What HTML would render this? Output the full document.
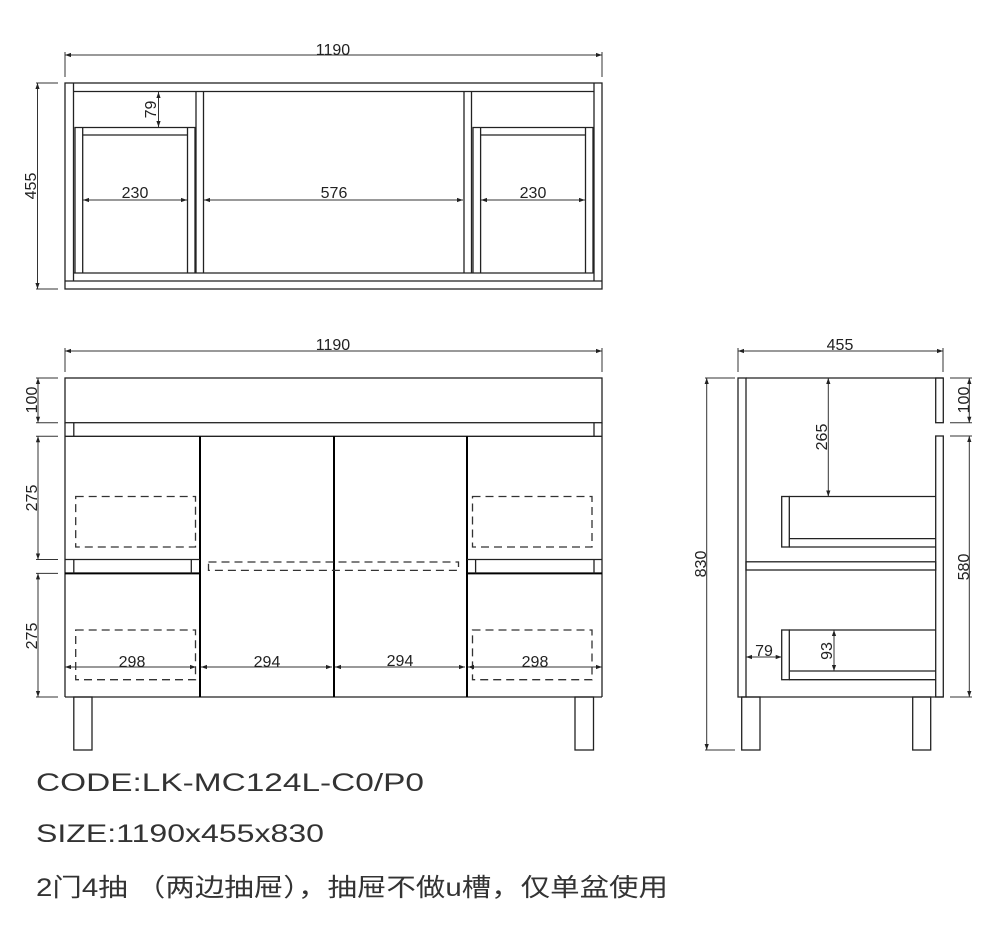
<!DOCTYPE html>
<html><head><meta charset="utf-8"><style>
html,body{margin:0;padding:0;background:#fff;}
svg{display:block;}
.o{fill:none;stroke:#222;stroke-width:1.3;}
.k{fill:none;stroke:#000;stroke-width:2;}
.d{fill:none;stroke:#333;stroke-width:1;}
.ds{fill:none;stroke:#333;stroke-width:1.3;stroke-dasharray:8,5;}
.t{font-family:"Liberation Sans",sans-serif;font-size:16px;fill:#222;}
.b{font-family:"Liberation Sans","Noto Sans CJK SC",sans-serif;font-size:25px;fill:#333;font-weight:normal;}
</style></head><body>
<svg width="1000" height="950" viewBox="0 0 1000 950" xmlns="http://www.w3.org/2000/svg">
<defs>
<marker id="a" viewBox="0 0 10 10" refX="10" refY="5" markerWidth="9" markerHeight="6" orient="auto-start-reverse" markerUnits="userSpaceOnUse"><path d="M0,1.5 L10,5 L0,8.5 Z" fill="#222"/></marker>
</defs>

<!-- ===== TOP VIEW ===== -->
<line class="d" x1="65" y1="55" x2="602" y2="55" marker-start="url(#a)" marker-end="url(#a)"/>
<line class="d" x1="65" y1="52" x2="65" y2="77"/><line class="d" x1="602" y1="52" x2="602" y2="77"/>
<text class="t" x="333" y="55" text-anchor="middle">1190</text>
<line class="d" x1="37.5" y1="83" x2="37.5" y2="289" marker-start="url(#a)" marker-end="url(#a)"/>
<line class="d" x1="36" y1="83" x2="58" y2="83"/><line class="d" x1="36" y1="289" x2="58" y2="289"/>
<text class="t" transform="translate(36,186) rotate(-90)" text-anchor="middle">455</text>

<rect class="o" x="65" y="83" width="537" height="206"/>
<line class="o" x1="73.5" y1="83" x2="73.5" y2="281"/><line class="o" x1="594" y1="83" x2="594" y2="281"/>
<line class="o" x1="73.5" y1="91.5" x2="594" y2="91.5"/>
<line class="o" x1="73.5" y1="273" x2="594" y2="273"/>
<line class="o" x1="65" y1="281" x2="602" y2="281"/>
<line class="o" x1="196" y1="91.5" x2="196" y2="273"/><line class="o" x1="203.5" y1="91.5" x2="203.5" y2="273"/>
<line class="o" x1="464" y1="91.5" x2="464" y2="273"/><line class="o" x1="471.5" y1="91.5" x2="471.5" y2="273"/>
<polyline class="o" points="75,273 75,127.5 195,127.5 195,273"/>
<line class="o" x1="82.7" y1="127.5" x2="82.7" y2="273"/><line class="o" x1="187.5" y1="127.5" x2="187.5" y2="273"/>
<line class="o" x1="82.7" y1="135" x2="187.5" y2="135"/>
<polyline class="o" points="473,273 473,127.5 593,127.5 593,273"/>
<line class="o" x1="480.6" y1="127.5" x2="480.6" y2="273"/><line class="o" x1="585.5" y1="127.5" x2="585.5" y2="273"/>
<line class="o" x1="480.6" y1="135" x2="585.5" y2="135"/>
<line class="d" x1="158.5" y1="92" x2="158.5" y2="127" marker-start="url(#a)" marker-end="url(#a)"/>
<text class="t" transform="translate(156,109.5) rotate(-90)" text-anchor="middle">79</text>
<line class="d" x1="83" y1="200" x2="187" y2="200" marker-start="url(#a)" marker-end="url(#a)"/>
<text class="t" x="135" y="198" text-anchor="middle">230</text>
<line class="d" x1="204" y1="200" x2="463" y2="200" marker-start="url(#a)" marker-end="url(#a)"/>
<text class="t" x="334" y="198" text-anchor="middle">576</text>
<line class="d" x1="481" y1="200" x2="585" y2="200" marker-start="url(#a)" marker-end="url(#a)"/>
<text class="t" x="533" y="198" text-anchor="middle">230</text>

<!-- ===== FRONT VIEW ===== -->
<line class="d" x1="65" y1="351" x2="602" y2="351" marker-start="url(#a)" marker-end="url(#a)"/>
<line class="d" x1="65" y1="348" x2="65" y2="372"/><line class="d" x1="602" y1="348" x2="602" y2="372"/>
<text class="t" x="333" y="350" text-anchor="middle">1190</text>

<rect class="o" x="65" y="378" width="537" height="44.7"/>
<line class="o" x1="65" y1="422.7" x2="65" y2="697"/><line class="o" x1="602" y1="422.7" x2="602" y2="697"/>
<line class="o" x1="73.8" y1="422.7" x2="73.8" y2="436.3"/><line class="o" x1="594" y1="422.7" x2="594" y2="436.3"/>
<line class="o" x1="65" y1="436.3" x2="602" y2="436.3"/>
<line class="o" x1="65" y1="697" x2="602" y2="697"/>
<line class="k" x1="200" y1="436.3" x2="200" y2="697"/>
<line class="k" x1="334" y1="436.3" x2="334" y2="697"/>
<line class="k" x1="467" y1="436.3" x2="467" y2="697"/>
<line class="o" x1="65" y1="559.5" x2="200" y2="559.5"/><line class="k" x1="65" y1="573.4" x2="200" y2="573.4"/>
<line class="o" x1="73.8" y1="559.5" x2="73.8" y2="573.4"/><line class="o" x1="191.3" y1="559.5" x2="191.3" y2="573.4"/>
<line class="o" x1="467" y1="559.5" x2="602" y2="559.5"/><line class="k" x1="467" y1="573.4" x2="602" y2="573.4"/>
<line class="o" x1="475.6" y1="559.5" x2="475.6" y2="573.4"/><line class="o" x1="594" y1="559.5" x2="594" y2="573.4"/>
<rect class="ds" x="75.7" y="496.5" width="119.8" height="50.5"/>
<rect class="ds" x="472.5" y="496.5" width="119.5" height="50.5"/>
<rect class="ds" x="75.7" y="630" width="119.8" height="49.7"/>
<rect class="ds" x="472.5" y="630" width="119.5" height="49.7"/>
<rect class="ds" x="208.5" y="562" width="250" height="8.4"/>
<rect class="o" x="73.8" y="697" width="18.2" height="53"/>
<rect class="o" x="575" y="697" width="18.5" height="53"/>
<line class="d" x1="65" y1="667" x2="196" y2="667" marker-start="url(#a)" marker-end="url(#a)"/>
<line class="d" x1="201" y1="667" x2="332" y2="667" marker-start="url(#a)" marker-end="url(#a)"/>
<line class="d" x1="335" y1="667" x2="465" y2="667" marker-start="url(#a)" marker-end="url(#a)"/>
<line class="d" x1="468" y1="667" x2="602" y2="667" marker-start="url(#a)" marker-end="url(#a)"/>
<text class="t" x="132" y="667" text-anchor="middle">298</text>
<text class="t" x="267" y="667" text-anchor="middle">294</text>
<text class="t" x="400" y="666" text-anchor="middle">294</text>
<text class="t" x="535" y="667" text-anchor="middle">298</text>
<line class="d" x1="38" y1="378" x2="38" y2="422.7" marker-start="url(#a)" marker-end="url(#a)"/>
<line class="d" x1="38" y1="436.3" x2="38" y2="559.5" marker-start="url(#a)" marker-end="url(#a)"/>
<line class="d" x1="38" y1="573.4" x2="38" y2="697" marker-start="url(#a)" marker-end="url(#a)"/>
<line class="d" x1="36" y1="378" x2="58" y2="378"/><line class="d" x1="36" y1="422.7" x2="58" y2="422.7"/>
<line class="d" x1="36" y1="436.3" x2="58" y2="436.3"/><line class="d" x1="36" y1="559.5" x2="58" y2="559.5"/>
<line class="d" x1="36" y1="573.4" x2="58" y2="573.4"/><line class="d" x1="36" y1="697" x2="58" y2="697"/>
<text class="t" transform="translate(37,400) rotate(-90)" text-anchor="middle">100</text>
<text class="t" transform="translate(37,498) rotate(-90)" text-anchor="middle">275</text>
<text class="t" transform="translate(37,636) rotate(-90)" text-anchor="middle">275</text>

<!-- ===== SIDE VIEW ===== -->
<line class="d" x1="738" y1="351" x2="943" y2="351" marker-start="url(#a)" marker-end="url(#a)"/>
<line class="d" x1="738" y1="348" x2="738" y2="372"/><line class="d" x1="943" y1="348" x2="943" y2="372"/>
<text class="t" x="840" y="350" text-anchor="middle">455</text>

<rect class="o" x="738" y="378" width="8" height="319"/>
<line class="o" x1="746" y1="378" x2="943" y2="378"/>
<line class="o" x1="746" y1="697" x2="943" y2="697"/>
<rect class="o" x="935.7" y="378" width="7.6" height="44.7"/>
<rect class="o" x="935.7" y="436" width="7.6" height="261"/>
<rect class="o" x="746" y="561.8" width="189.7" height="8.2"/>
<rect class="o" x="781.7" y="496.5" width="7.6" height="50.5"/>
<line class="o" x1="789.3" y1="496.5" x2="935.7" y2="496.5"/>
<line class="o" x1="789.3" y1="547" x2="935.7" y2="547"/>
<line class="o" x1="789.3" y1="538.6" x2="935.7" y2="538.6"/>
<rect class="o" x="781.7" y="630" width="7.6" height="49.7"/>
<line class="o" x1="789.3" y1="630" x2="935.7" y2="630"/>
<line class="o" x1="789.3" y1="679.7" x2="935.7" y2="679.7"/>
<line class="o" x1="789.3" y1="671" x2="935.7" y2="671"/>
<rect class="o" x="741.7" y="697" width="18.3" height="53"/>
<rect class="o" x="912.7" y="697" width="18" height="53"/>
<line class="d" x1="828.3" y1="378" x2="828.3" y2="496.5" marker-start="url(#a)" marker-end="url(#a)"/>
<text class="t" transform="translate(827,437) rotate(-90)" text-anchor="middle">265</text>
<line class="d" x1="834" y1="630" x2="834" y2="671" marker-start="url(#a)" marker-end="url(#a)"/>
<text class="t" transform="translate(832,651) rotate(-90)" text-anchor="middle">93</text>
<line class="d" x1="746" y1="657" x2="781.7" y2="657" marker-start="url(#a)" marker-end="url(#a)"/>
<text class="t" x="764" y="656" text-anchor="middle">79</text>
<line class="d" x1="706.7" y1="378" x2="706.7" y2="750" marker-start="url(#a)" marker-end="url(#a)"/>
<line class="d" x1="705" y1="378" x2="735" y2="378"/><line class="d" x1="705" y1="750" x2="735" y2="750"/>
<text class="t" transform="translate(706,564) rotate(-90)" text-anchor="middle">830</text>
<line class="d" x1="969.3" y1="378" x2="969.3" y2="422.7" marker-start="url(#a)" marker-end="url(#a)"/>
<line class="d" x1="969.3" y1="436" x2="969.3" y2="697" marker-start="url(#a)" marker-end="url(#a)"/>
<line class="d" x1="950" y1="378" x2="972" y2="378"/><line class="d" x1="950" y1="422.7" x2="972" y2="422.7"/>
<line class="d" x1="950" y1="436" x2="972" y2="436"/><line class="d" x1="950" y1="697" x2="972" y2="697"/>
<text class="t" transform="translate(969,400) rotate(-90)" text-anchor="middle">100</text>
<text class="t" transform="translate(969,567) rotate(-90)" text-anchor="middle">580</text>

<!-- ===== TEXT ===== -->
<text class="b" x="36" y="791" textLength="388" lengthAdjust="spacingAndGlyphs">CODE:LK-MC124L-C0/P0</text>
<text class="b" x="36" y="842" textLength="288" lengthAdjust="spacingAndGlyphs">SIZE:1190x455x830</text>
<text class="b" x="36" y="896" textLength="632" lengthAdjust="spacingAndGlyphs">2门4抽 （两边抽屉），抽屉不做u槽，仅单盆使用</text>
</svg>
</body></html>
